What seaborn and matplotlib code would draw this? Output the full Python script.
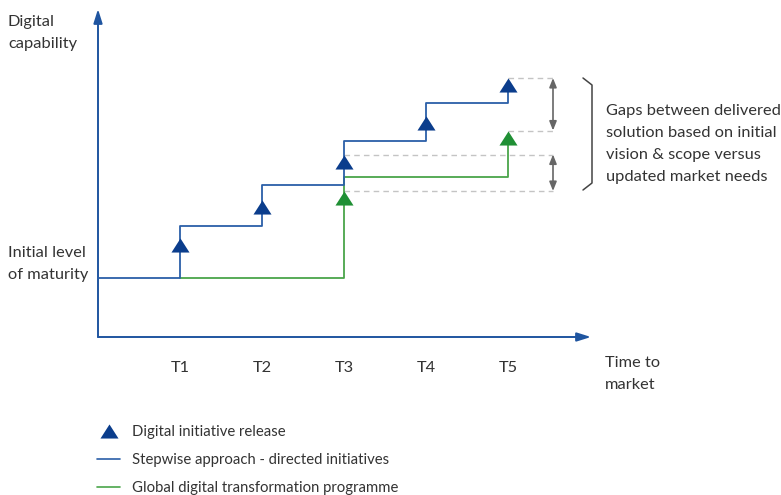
import matplotlib
matplotlib.use("Agg")
import matplotlib.pyplot as plt
import seaborn as sns
import pandas as pd
from matplotlib.lines import Line2D
from matplotlib.path import Path

# ---------------- data ----------------
time_labels = ["T1", "T2", "T3", "T4", "T5"]
time_pos = [1, 2, 3, 4, 5]

stepwise_x = [0, 1, 2, 3, 4, 5]
stepwise_level = [5.9, 11.1, 15.2, 19.6, 23.4, 25.2]

global_x = [1, 3, 5]
global_level = [5.9, 16.0, 19.95]

stepwise_release_x = [1, 2, 3, 4, 5]
stepwise_release_y = [9.2, 13.0, 17.55, 21.45, 25.2]

global_release_x = [3, 5]
global_release_y = [13.9, 19.95]

# ---------------- style ----------------
sns.set_theme(style="white")
plt.rcParams["font.family"] = ["Lato", "DejaVu Sans"]

BLUE_AX = "#1f55a0"
BLUE_LN = "#2b5fa8"
BLUE_MK = "#0b3d8c"
GREEN_LN = "#4aa54a"
GREEN_MK = "#1f8f34"
TXT = "#333333"
GREY = "#666666"
DASH = "#c4c4c4"

W, H = 781, 495
X0, SX = 98, 82
Y0, SY = 337, 10


def P(px, py):
    return ((px - X0) / SX, (Y0 - py) / SY)


fig = plt.figure(figsize=(W / 100, H / 100), dpi=100)
ax = fig.add_axes([0, 0, 1, 1])
ax.set_xlim(P(0, 0)[0], P(W, 0)[0])
ax.set_ylim(P(0, H)[1], P(0, 0)[1])
ax.axis("off")

tri = Path([(-1, -0.78), (1, -0.78), (0, 0.78), (-1, -0.78)],
           [Path.MOVETO, Path.LINETO, Path.LINETO, Path.CLOSEPOLY])

# axes arrows
ax.annotate("", xy=P(98, 9), xytext=(0, 0),
            arrowprops=dict(arrowstyle="-|>,head_length=0.7,head_width=0.22",
                            color=BLUE_AX, lw=1.4, shrinkA=0, shrinkB=0))
ax.annotate("", xy=P(591, 337), xytext=(0, 0),
            arrowprops=dict(arrowstyle="-|>,head_length=0.7,head_width=0.22",
                            color=BLUE_AX, lw=1.4, shrinkA=0, shrinkB=0))

# step lines
df_s = pd.DataFrame({"x": stepwise_x, "y": stepwise_level})
df_g = pd.DataFrame({"x": global_x, "y": global_level})
sns.lineplot(data=df_g, x="x", y="y", ax=ax, color=GREEN_LN, lw=1.3,
             drawstyle="steps-post", estimator=None, sort=False, zorder=3)
sns.lineplot(data=df_s, x="x", y="y", ax=ax, color=BLUE_LN, lw=1.3,
             drawstyle="steps-post", estimator=None, sort=False, zorder=3)

# release markers
ms = 13 ** 2
sns.scatterplot(x=stepwise_release_x, y=stepwise_release_y, ax=ax, marker=tri,
                s=ms, color=BLUE_MK, linewidth=0, zorder=5)
sns.scatterplot(x=global_release_x, y=global_release_y, ax=ax, marker=tri,
                s=ms, color=GREEN_MK, linewidth=0, zorder=5)

# gap guides
half_h = 0.7
xr = P(553, 0)[0]
gaps = [(stepwise_release_x[4], stepwise_release_y[4] + half_h),
        (global_release_x[1], global_release_y[1] + half_h),
        (stepwise_release_x[2], stepwise_release_y[2] + half_h),
        (global_release_x[0], global_release_y[0] + half_h)]
for gx, gy in gaps:
    ax.plot([gx, xr], [gy, gy], color=DASH, lw=1.0, ls=(0, (4, 3)), zorder=2)
for a, b in [(gaps[0][1], gaps[1][1]), (gaps[2][1], gaps[3][1])]:
    ax.annotate("", xy=(xr, a), xytext=(xr, b),
                arrowprops=dict(arrowstyle="<|-|>,head_length=0.45,head_width=0.18",
                                color=GREY, lw=1.2, shrinkA=0, shrinkB=0))

# bracket
bpx = [(583, 78), (592, 85), (592, 183), (583, 190)]
ax.plot([P(*p)[0] for p in bpx], [P(*p)[1] for p in bpx], color="#444444", lw=1.1)

# texts (one text per line, baseline aligned)
fs = 11.8


def lines(px, baselines, texts):
    for b, t in zip(baselines, texts):
        ax.text(*P(px, b), t, fontsize=fs, color=TXT, va="baseline", ha="left")


lines(8, [26, 48], ["Digital", "capability"])
lines(8, [257, 279], ["Initial level", "of maturity"])
lines(605, [367, 389], ["Time to", "market"])
lines(606, [115, 137, 159, 181],
      ["Gaps between delivered", "solution based on initial",
       "vision & scope versus", "updated market needs"])
ty = P(0, 372)[1]
for x, lab in zip(time_pos, time_labels):
    ax.text(x, ty, lab, fontsize=fs, color=TXT, ha="center", va="baseline")

# legend
handles = [Line2D([], [], ls="none", marker=tri, markersize=13, color=BLUE_MK, markeredgewidth=0),
           Line2D([], [], color=BLUE_LN, lw=1.2),
           Line2D([], [], color=GREEN_LN, lw=1.2)]
labels = ["Digital initiative release", "Stepwise approach - directed initiatives",
          "Global digital transformation programme"]
leg = fig.legend(handles, labels, loc="upper left", bbox_to_anchor=(97 / W, 1 - 425 / H),
                 frameon=False, fontsize=10.7, handlelength=1.55, handletextpad=0.8,
                 labelspacing=0.95, borderpad=0, borderaxespad=0)
for t in leg.get_texts():
    t.set_color(TXT)

fig.savefig("out.png", dpi=100)
